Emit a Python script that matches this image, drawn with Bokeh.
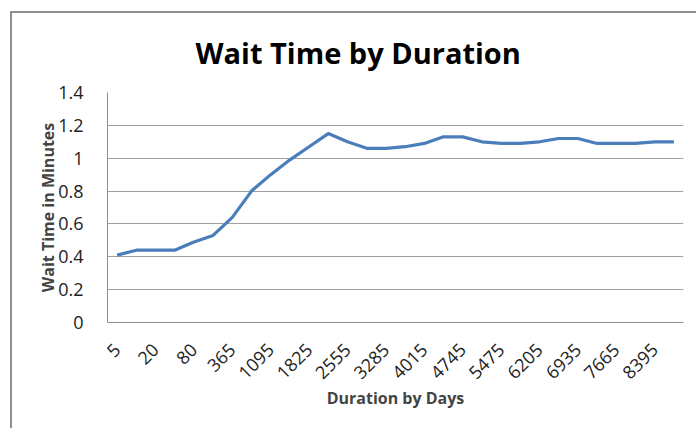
from bokeh.plotting import figure
from bokeh.models import Range1d, FixedTicker, NumeralTickFormatter, Title
from bokeh.embed import file_html
from bokeh.resources import INLINE

# Data
durations = ["5", "10", "20", "40", "80", "180", "365", "730", "1095", "1460",
             "1825", "2190", "2555", "2920", "3285", "3650", "4015", "4380",
             "4745", "5110", "5475", "5840", "6205", "6570", "6935", "7300",
             "7665", "8030", "8395", "8760"]
wait_minutes = [0.41, 0.44, 0.44, 0.44, 0.49, 0.53, 0.64, 0.80, 0.90, 0.99,
                1.07, 1.15, 1.10, 1.06, 1.06, 1.07, 1.09, 1.13, 1.13, 1.10,
                1.09, 1.09, 1.10, 1.12, 1.12, 1.09, 1.09, 1.09, 1.10, 1.10]
y_ticks = [0, 0.2, 0.4, 0.6, 0.8, 1, 1.2, 1.4]

FONT = "Open Sans"

idx = list(range(len(durations)))

p = figure(x_range=Range1d(-0.5, len(durations) - 0.5), y_range=Range1d(0, 1.4),
           width=686, height=428, output_backend="svg", toolbar_location=None,
           min_border_left=97, min_border_right=13, min_border_top=92,
           min_border_bottom=106)
# chart-area outline (left and top edges), drawn behind the transparent canvas border
p.styles = {
    "margin-left": "10px", "margin-top": "0px",
    "background": ("linear-gradient(#8e8e8e,#8e8e8e) 0px 11px / 100% 2px no-repeat, "
                   "linear-gradient(#8e8e8e,#8e8e8e) 0px 11px / 2px 100% no-repeat, white"),
}

p.outline_line_color = None
p.background_fill_color = "white"
p.border_fill_color = None

p.line(idx, wait_minutes, line_color="#4a7ebb", line_width=3.2)

t = Title(text="Wait Time by Duration", align="left", offset=88,
          text_font=FONT, text_font_size="29px", text_font_style="bold",
          text_color="black", standoff=41)
p.add_layout(t, "above")

# Y axis
p.yaxis.ticker = FixedTicker(ticks=y_ticks)
p.yaxis.formatter = NumeralTickFormatter(format="0.[0]")
p.yaxis.axis_label = "Wait Time in Minutes"
p.yaxis.axis_label_text_font = FONT
p.yaxis.axis_label_text_font_size = "16px"
p.yaxis.axis_label_text_font_style = "bold"
p.yaxis.axis_label_standoff = -4
p.yaxis.major_label_text_font = FONT
p.yaxis.major_label_text_font_size = "18px"
p.yaxis.major_label_text_color = "#222222"
p.yaxis.major_label_standoff = 18
p.yaxis.major_tick_line_color = None
p.yaxis.minor_tick_line_color = None
p.yaxis.axis_line_color = "#8e8e8e"

# X axis: label every other category
p.xaxis.ticker = FixedTicker(ticks=idx[::2])
p.xaxis.major_label_overrides = {i: durations[i] for i in idx[::2]}
p.xaxis.major_label_orientation = 0.785398
p.xaxis.axis_label = "Duration by Days"
p.xaxis.axis_label_text_font = FONT
p.xaxis.axis_label_text_font_size = "16px"
p.xaxis.axis_label_text_font_style = "bold"
p.xaxis.axis_label_standoff = -1
p.xaxis.major_label_text_font = FONT
p.xaxis.major_label_text_font_size = "18px"
p.xaxis.major_label_text_color = "#222222"
p.xaxis.major_label_standoff = 18
p.xaxis.major_tick_line_color = None
p.xaxis.minor_tick_line_color = None
p.xaxis.axis_line_color = "#8e8e8e"

p.xgrid.grid_line_color = None
p.ygrid.grid_line_color = "#a0a0a0"
p.ygrid.grid_line_width = 1

open("out.html", "w").write(file_html(p, INLINE))
